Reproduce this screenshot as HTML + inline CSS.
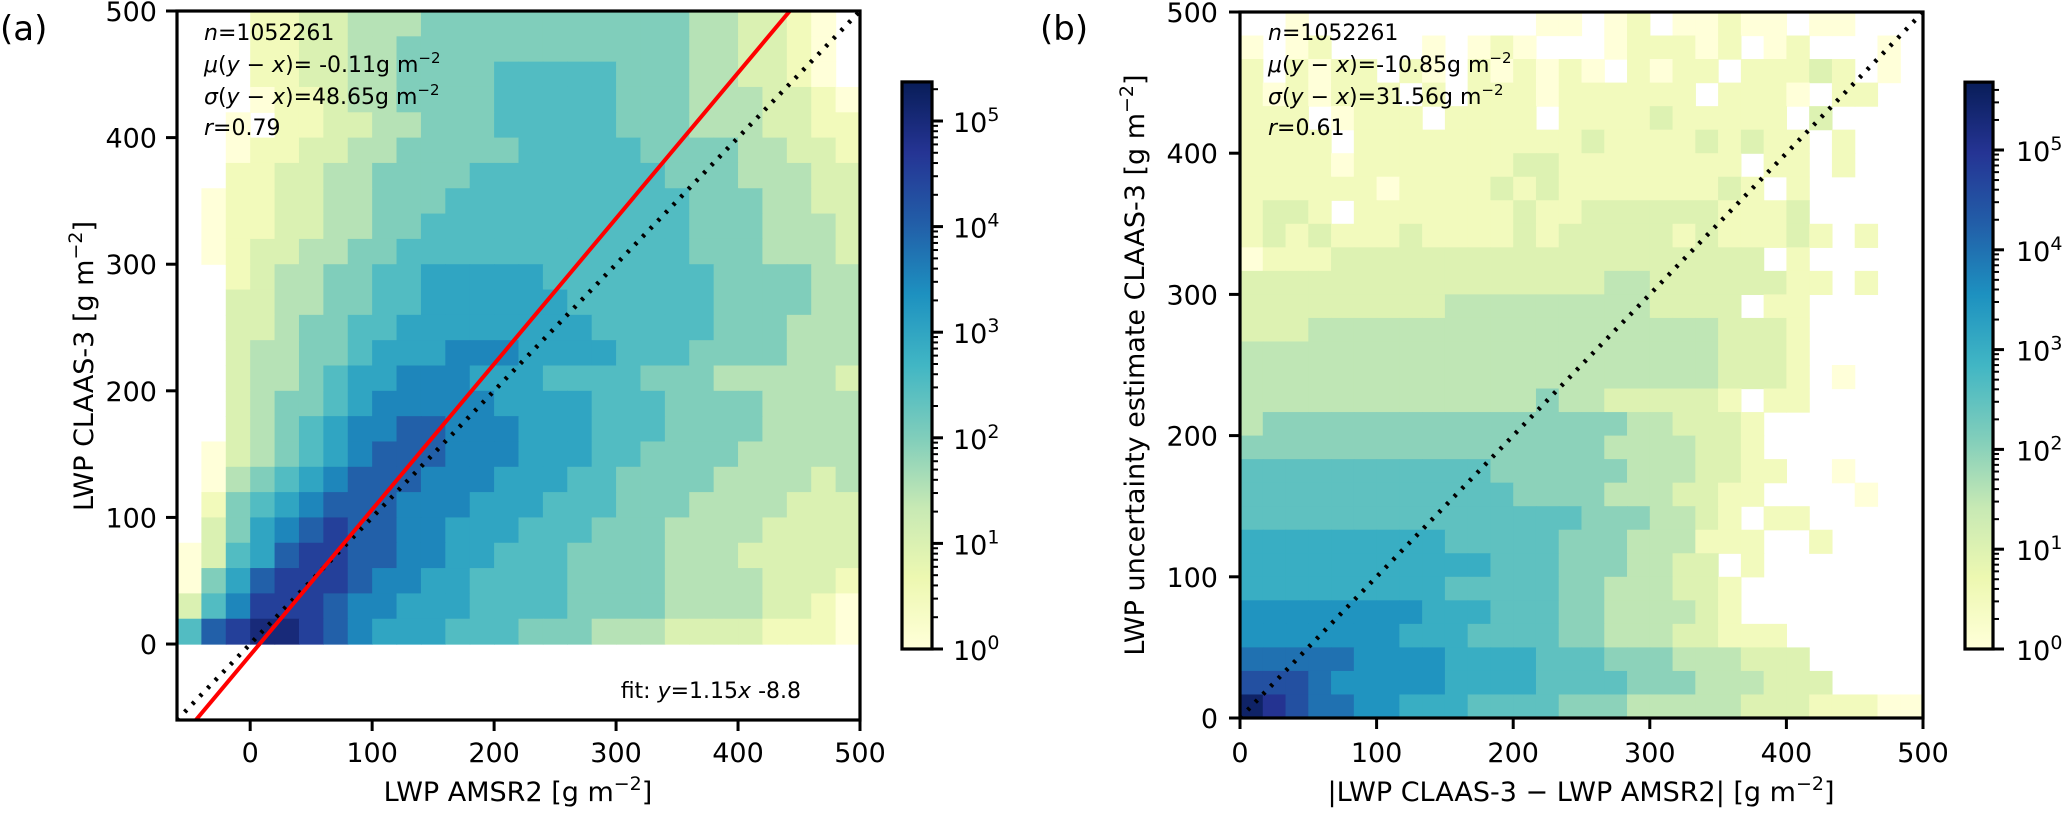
<!DOCTYPE html>
<html><head><meta charset="utf-8"><title>LWP histograms</title>
<style>
html,body{margin:0;padding:0;background:#fff;}
svg{display:block;}
text{font-family:"DejaVu Sans","Liberation Sans",sans-serif;fill:#000;}
</style></head>
<body>
<svg id="fig" width="2067" height="815" viewBox="0 0 2067 815" xmlns="http://www.w3.org/2000/svg">
<defs>
<linearGradient id="cbgrad" x1="0" y1="1" x2="0" y2="0">
<stop offset="0" stop-color="#ffffd9"/><stop offset="0.125" stop-color="#edf8b1"/><stop offset="0.25" stop-color="#c7e9b4"/><stop offset="0.375" stop-color="#7fcdbb"/><stop offset="0.5" stop-color="#41b6c4"/><stop offset="0.625" stop-color="#1d91c0"/><stop offset="0.75" stop-color="#225ea8"/><stop offset="0.875" stop-color="#253494"/><stop offset="1" stop-color="#081d58"/>
</linearGradient>
<clipPath id="clipA"><rect x="177" y="11" width="683" height="709"/></clipPath>
<clipPath id="clipB"><rect x="1240" y="12" width="683" height="706"/></clipPath>
</defs>
<g id="heatA" clip-path="url(#clipA)"></g>
<g id="linesA" clip-path="url(#clipA)"></g>
<g id="heatB" clip-path="url(#clipB)"></g>
<g id="linesB" clip-path="url(#clipB)"></g>
<g id="axesA"></g>
<g id="axesB"></g>
<g id="cbA"></g>
<g id="cbB"></g>

<text x="0" y="40" font-size="34">(a)</text>
<text x="1040" y="40" font-size="34">(b)</text>

<g font-size="22">
<text x="204" y="40"><tspan font-style="italic">n</tspan>=1052261</text>
<text x="204" y="72"><tspan font-style="italic">μ</tspan>(<tspan font-style="italic">y</tspan> − <tspan font-style="italic">x</tspan>)= -0.11g m<tspan font-size="15" dy="-9">−2</tspan></text>
<text x="204" y="104"><tspan font-style="italic">σ</tspan>(<tspan font-style="italic">y</tspan> − <tspan font-style="italic">x</tspan>)=48.65g m<tspan font-size="15" dy="-9">−2</tspan></text>
<text x="204" y="135"><tspan font-style="italic">r</tspan>=0.79</text>
</g>
<text x="801" y="698" font-size="22" text-anchor="end">fit: <tspan font-style="italic">y</tspan>=1.15<tspan font-style="italic">x</tspan> -8.8</text>

<g font-size="22">
<text x="1268" y="40"><tspan font-style="italic">n</tspan>=1052261</text>
<text x="1268" y="72"><tspan font-style="italic">μ</tspan>(<tspan font-style="italic">y</tspan> − <tspan font-style="italic">x</tspan>)=-10.85g m<tspan font-size="15" dy="-9">−2</tspan></text>
<text x="1268" y="104"><tspan font-style="italic">σ</tspan>(<tspan font-style="italic">y</tspan> − <tspan font-style="italic">x</tspan>)=31.56g m<tspan font-size="15" dy="-9">−2</tspan></text>
<text x="1268" y="135"><tspan font-style="italic">r</tspan>=0.61</text>
</g>

<text x="518" y="801" font-size="27" text-anchor="middle">LWP AMSR2 [g m<tspan font-size="19" dy="-11">−2</tspan><tspan dy="11">]</tspan></text>
<text transform="translate(93,366) rotate(-90)" font-size="27" text-anchor="middle">LWP CLAAS-3 [g m<tspan font-size="19" dy="-11">−2</tspan><tspan dy="11">]</tspan></text>
<text x="1581" y="801" font-size="27" text-anchor="middle">|LWP CLAAS-3 − LWP AMSR2| [g m<tspan font-size="19" dy="-11">−2</tspan><tspan dy="11">]</tspan></text>
<text transform="translate(1144,365) rotate(-90)" font-size="27" text-anchor="middle">LWP uncertainty estimate CLAAS-3 [g m<tspan font-size="19" dy="-11">−2</tspan><tspan dy="11">]</tspan></text>

<script>
// ---------- data ----------
// panel (a): log10(count)*2 per bin, '.' = empty; rows top (480-500) to bottom (0-20); columns x=-60..480 step 20
const aRows = [
"...112233344444444444332210.",
"...112233444444444444332210.",
"...112233444455555444332210.",
"...0112334444555554443332210",
"..0.112233444555554443332211",
"..01122334444455555444433221",
"..11223344445555555544433322",
".011223344455555555554443322",
".011223344555555555554443332",
".012233445555555555554443332",
"..12334455666665555555444433",
"..22334455666666555555444433",
"..22344556666666655555444333",
"..23344566677766665554444333",
"..23345667776665555444333332",
"..23445677777666655544443333",
"..23456778877766655544443333",
".023456788877766655444433333",
".034567888777666554444333323",
".145678887776665554443333222",
".246789887766655544433332222",
"0256899887766555444433322222",
"0468999877665555444433332221",
"2579998776665555444433332210",
"589aa98766655544433322221110"
];
const aXStart = -60;
const aBinW = 20;
const aYStart = 0;
const aLogMax = 5.37;
// panel (b): rows top (483-500) to bottom (0-16.7); 30 columns 0..500
const bRows = [
"..0..........00.01.00100.00...",
"0.01....0.010...011101.01...0.",
"1.1011.10.101010.1011.11121.0.",
"1010111.1.1110111111.1110.11..",
"111.0111.1111.1111211111.2....",
"1111.11111111112111121211.1...",
"1111011111112211111111.11.1...",
"11111101111212111111121.1.....",
"1221.11111112112222221112.....",
"12121112111121222221211121.1..",
"01112222222222222222222.1.....",
"22222222222222223322222211.1..",
"2222222223333333332222.11.....",
"2223333333333333333332221.....",
"3333333333333333333332221.....",
"3333333333333333333332221.0...",
"3333333333333433222221.11.....",
"34444444444444444332221.......",
"44444444444444443333221.......",
"555555555554444443332211..0...",
"55555555555544443332211....0..",
"5555555555555554443321.11.....",
"66666666655555444333111..1....",
"666666666665554443322.1.......",
"6666666665555544333221........",
"7777777766655544333321........",
"777777766655554433322111......",
"8888877776666555444333222.....",
"99987777766665555444333222....",
"ba9887766655554443333322211100"
];
const bNBins = 30;
const bRange = 500;
const bLogMax = 5.68;
const fitSlope = 1.15;
const fitIntercept = -8.8;
const diagA = [-60, 500];
const diagB = [0, 500];
const xTicksA = [0, 100, 200, 300, 400, 500];
const yTicksA = [0, 100, 200, 300, 400, 500];
const xTicksB = [0, 100, 200, 300, 400, 500];
const yTicksB = [0, 100, 200, 300, 400, 500];
const cbMajor = [0, 1, 2, 3, 4, 5];

// ---------- scales ----------
const xa = v => 177 + (v + 60) / 560 * 683;
const ya = v => 720 - (v + 60) / 560 * 709;
const xb = v => 1240 + v / 500 * 683;
const yb = v => 718 - v / 500 * 706;
const cbAy = l => 649 - l * 105.6;
const cbBy = l => 649 - l * 99.8;

const NS = "http://www.w3.org/2000/svg";
const STOPS = ['#ffffd9','#edf8b1','#c7e9b4','#7fcdbb','#41b6c4','#1d91c0','#225ea8','#253494','#081d58'];
function hex(h){return [parseInt(h.slice(1,3),16),parseInt(h.slice(3,5),16),parseInt(h.slice(5,7),16)];}
function cmap(f){
  f = Math.max(0, Math.min(1, f));
  const p = f * 8, i = Math.min(7, Math.floor(p)), t = p - i;
  const a = hex(STOPS[i]), b = hex(STOPS[i+1]);
  return 'rgb(' + a.map((v,k)=>Math.round(v + (b[k]-v)*t)).join(',') + ')';
}
function mk(tag, attrs, parent){
  const e = document.createElementNS(NS, tag);
  for (const k in attrs) e.setAttribute(k, attrs[k]);
  parent.appendChild(e);
  return e;
}
function parseRows(rows, n){
  return rows.map(s => {
    const out = [];
    for (let i = 0; i < n; i++){
      const c = s[i];
      out.push(c === undefined || c === '.' ? 0 : Math.pow(10, parseInt(c, 36) / 2));
    }
    return out;
  });
}
const countsA = parseRows(aRows, 28);
const countsB = parseRows(bRows, bNBins);

// ---------- heatmap a ----------
const heatA = document.getElementById('heatA');
countsA.forEach((row, i) => {
  const r = countsA.length - 1 - i;
  row.forEach((v, c) => {
    if (v <= 0) return;
    const x0 = aXStart + c * aBinW, y0 = aYStart + r * aBinW;
    const el = mk('rect', {x: xa(x0), y: ya(y0 + aBinW), width: xa(x0 + aBinW) - xa(x0) + 0.6, height: ya(y0) - ya(y0 + aBinW) + 0.6, fill: cmap(Math.log10(v) / aLogMax)}, heatA);
    
    
  });
});
// ---------- heatmap b ----------
const heatB = document.getElementById('heatB');
const bW = bRange / bNBins;
countsB.forEach((row, i) => {
  const r = countsB.length - 1 - i;
  row.forEach((v, c) => {
    if (v <= 0) return;
    const x0 = c * bW, y0 = r * bW;
    const el = mk('rect', {x: xb(x0), y: yb(y0 + bW), width: xb(x0 + bW) - xb(x0) + 0.6, height: yb(y0) - yb(y0 + bW) + 0.6, fill: cmap(Math.log10(v) / bLogMax)}, heatB);
    
    
  });
});

// ---------- lines ----------
const linesA = document.getElementById('linesA');
const d1 = mk('line', {x1: xa(diagA[0]), y1: ya(diagA[0]), x2: xa(diagA[1]), y2: ya(diagA[1]), stroke: '#000', 'stroke-width': 4.5, 'stroke-dasharray': '3 8', fill: 'none'}, linesA);


const fx0 = -60, fx1 = 520;
const fl = mk('line', {x1: xa(fx0), y1: ya(fitSlope*fx0 + fitIntercept), x2: xa(fx1), y2: ya(fitSlope*fx1 + fitIntercept), stroke: '#ff0000', 'stroke-width': 4}, linesA);


const linesB = document.getElementById('linesB');
const d2 = mk('line', {x1: xb(diagB[0]), y1: yb(diagB[0]), x2: xb(diagB[1]), y2: yb(diagB[1]), stroke: '#000', 'stroke-width': 4.5, 'stroke-dasharray': '3 8', fill: 'none'}, linesB);



// ---------- axes ----------
function axes(g, L, T, R, B, xs, ys, xT, yT, yLabRight){
  const fr = mk('rect', {x: L, y: T, width: R-L, height: B-T, fill: 'none', stroke: '#000', 'stroke-width': 3.2}, g);
  
  
  xT.forEach(v => {
    const t = mk('line', {x1: xs(v), y1: B, x2: xs(v), y2: B + 11, stroke: '#000', 'stroke-width': 3}, g);
    
    
    const tx = mk('text', {x: xs(v), y: 762, 'font-size': 27, 'text-anchor': 'middle'}, g);
    tx.textContent = String(v);
    
    
  });
  yT.forEach(v => {
    const t = mk('line', {x1: L - 11, y1: ys(v), x2: L, y2: ys(v), stroke: '#000', 'stroke-width': 3}, g);
    
    
    const tx = mk('text', {x: yLabRight, y: ys(v) + 10, 'font-size': 27, 'text-anchor': 'end'}, g);
    tx.textContent = String(v);
    
    
  });
}
axes(document.getElementById('axesA'), 177, 11, 860, 720, xa, ya, xTicksA, yTicksA, 157);
axes(document.getElementById('axesB'), 1240, 12, 1923, 718, xb, yb, xTicksB, yTicksB, 1218);

// ---------- colorbars ----------
function colorbar(g, L, R, cy, lmax, labX){
  const top = cy(lmax), bot = cy(0);
  const bar = mk('rect', {x: L, y: top, width: R-L, height: bot-top, fill: 'url(#cbgrad)', stroke: '#000', 'stroke-width': 3.2}, g);
  
  
  for (let e = 0; e < 6; e++){
    for (let k = 2; k <= 9; k++){
      const l = e + Math.log10(k);
      if (l > lmax) continue;
      const m = mk('line', {x1: R, y1: cy(l), x2: R + 6, y2: cy(l), stroke: '#000', 'stroke-width': 2}, g);
      
      
    }
  }
  cbMajor.forEach(l => {
    const t = mk('line', {x1: R, y1: cy(l), x2: R + 11, y2: cy(l), stroke: '#000', 'stroke-width': 3}, g);
    
    
    const tx = mk('text', {x: labX, y: cy(l) + 11, 'font-size': 27}, g);
    
    
    tx.appendChild(document.createTextNode('10'));
    const s = mk('tspan', {'font-size': 19, dy: -11}, tx);
    s.textContent = String(l);
  });
}
colorbar(document.getElementById('cbA'), 902, 932, cbAy, aLogMax, 953);
colorbar(document.getElementById('cbB'), 1965, 1993, cbBy, bLogMax, 2016);
</script>
</svg>
</body></html>
